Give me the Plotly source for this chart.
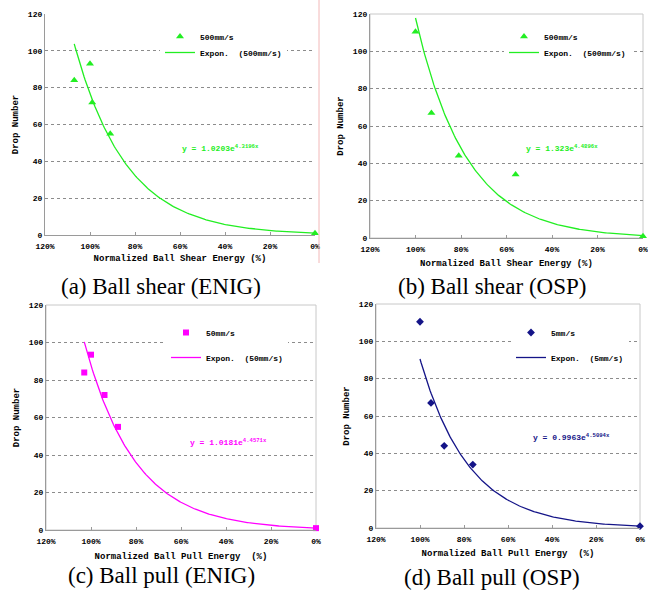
import numpy as np
import plotly.graph_objects as go

W, H = 648, 590

# ---- data (normalized energy as fraction, drop number) ----
a_x = [1.07, 1.00, 0.99, 0.91, 0.00]
a_y = [84, 93, 72, 55, 1]
b_x = [1.00, 0.93, 0.81, 0.56, 0.00]
b_y = [110.5, 67, 44, 34, 1]
c_x = [1.03, 1.00, 0.94, 0.88, 0.00]
c_y = [84, 93.5, 72, 55, 1]
d_x = [1.00, 0.95, 0.89, 0.76, 0.00]
d_y = [110.5, 67, 44, 34, 1]

# exponential trendline coefficients shown on the chart: y = A * exp(B x)
a_fit = (1.0203, 4.3196)
b_fit = (1.323, 4.4896)
c_fit = (1.0181, 4.4571)
d_fit = (0.9963, 4.5094)

a_series = "500mm/s"
b_series = "500mm/s"
c_series = "50mm/s"
d_series = "5mm/s"

captions = ["(a) Ball shear (ENIG)", "(b) Ball shear (OSP)",
            "(c) Ball pull (ENIG)", "(d) Ball pull (OSP)"]
x_titles = ["Normalized Ball Shear Energy (%)", "Normalized Ball Shear Energy (%)",
            "Normalized Ball Pull Energy  (%)", "Normalized Ball Pull Energy  (%)"]
y_title = "Drop Number"
x_ticks = [1.2, 1.0, 0.8, 0.6, 0.4, 0.2, 0.0]
x_ticktext = ["120%", "100%", "80%", "60%", "40%", "20%", "0%"]
y_ticks = [0, 20, 40, 60, 80, 100, 120]

# ---- styling / layout (pixels) ----
GREEN = "#22EE22"
MAGENTA = "#FF00FF"
NAVY = "#141488"
MONO = "Liberation Mono"

# leg: (left px, marker-item centre y, line-item centre y); split -> one legend per item
panels = [
    dict(x=a_x, y=a_y, fit=a_fit, name=a_series, color=GREEN, symbol="triangle-up", msize=7,
         px=(45, 315), py=(235, 14), eq=(0.60, 47), leg=(160, 33, 49), split=True, frame=False,
         tstand=4),
    dict(x=b_x, y=b_y, fit=b_fit, name=b_series, color=GREEN, symbol="triangle-up", msize=7,
         px=(370, 643), py=(238, 14), eq=(0.521, 48), leg=(504, 33, 49), split=True, frame=True,
         tstand=6),
    dict(x=c_x, y=c_y, fit=c_fit, name=c_series, color=MAGENTA, symbol="square", msize=6,
         px=(46, 316), py=(530, 305), eq=(0.569, 47), leg=(166, 329, 353), split=False,
         frame=True, tstand=7),
    dict(x=d_x, y=d_y, fit=d_fit, name=d_series, color=NAVY, symbol="diamond", msize=6,
         px=(376, 640), py=(528, 304), eq=(0.495, 49), leg=(511, 329, 353), split=False,
         frame=True, tstand=6),
]
cap_pos = [(161, 286), (492, 286), (161, 575), (492, 577)]
LEG_TOP_OFFSET = 11  # px from legend top to first item centre

fig = go.Figure()
layout = dict(width=W, height=H, margin=dict(l=0, r=0, t=0, b=0),
              paper_bgcolor="white", plot_bgcolor="white", showlegend=True)
annotations = []
shapes = []
leg_count = 0


def new_legend(lx, top, gap=0, order="normal", bg="white"):
    global leg_count
    leg_count += 1
    nm = "legend" if leg_count == 1 else "legend%d" % leg_count
    layout[nm] = dict(
        x=lx / W, y=1 - top / H, xanchor="left", yanchor="top", bgcolor=bg,
        borderwidth=0, font=dict(family=MONO, size=8, color="black", weight="bold"),
        itemwidth=30, tracegroupgap=gap, traceorder=order)
    return nm


for i, p in enumerate(panels):
    k = "" if i == 0 else str(i + 1)
    xa, ya = "x" + k, "y" + k
    A, B = p["fit"]
    xs = np.linspace(0, max(p["x"]), 200)
    ys = A * np.exp(B * xs)
    lx, cy1, cy2 = p["leg"]
    if p["split"]:
        # line-item legend first (drawn underneath, white box hides gridline),
        # marker-item legend on top with transparent box
        leg2 = new_legend(lx, cy2 - LEG_TOP_OFFSET)
        leg1 = new_legend(lx, cy1 - LEG_TOP_OFFSET, bg="rgba(255,255,255,0)")
        g1 = g2 = ""
    else:
        leg1 = leg2 = new_legend(lx, cy1 - LEG_TOP_OFFSET, gap=6, order="grouped")
        g1, g2 = "g%da" % i, "g%db" % i
    # trendline trace first so its legend is drawn beneath the marker legend
    fig.add_trace(go.Scatter(
        x=xs, y=ys, mode="lines", name="Expon.\u00a0 (%s)" % p["name"], xaxis=xa, yaxis=ya,
        line=dict(color=p["color"], width=1.3), legend=leg2, legendgroup=g2,
        legendrank=2, cliponaxis=False))
    fig.add_trace(go.Scatter(
        x=p["x"], y=p["y"], mode="markers", name=p["name"], xaxis=xa, yaxis=ya,
        marker=dict(symbol=p["symbol"], size=p["msize"], color=p["color"]),
        legend=leg1, legendgroup=g1, legendrank=1, cliponaxis=False))

    x0, x1 = p["px"]
    yb, yt = p["py"]
    layout["xaxis" + k] = dict(
        domain=[x0 / W, x1 / W], range=[1.2, 0], anchor=ya,
        tickvals=x_ticks, ticktext=x_ticktext, ticks="inside", ticklen=3, tickcolor="#999",
        ticklabelstandoff=3, ticklabeloverflow="allow",
        showline=True, linecolor="#9a9a9a", linewidth=1.3, showgrid=False, zeroline=False,
        tickfont=dict(family=MONO, size=8, color="black", weight="bold"),
        title=dict(text=x_titles[i], font=dict(family=MONO, size=9, color="black", weight="bold"),
                   standoff=p["tstand"]),
        automargin=False, fixedrange=True)
    layout["yaxis" + k] = dict(
        domain=[1 - yb / H, 1 - yt / H], range=[0, 120], anchor=xa,
        tickvals=y_ticks, ticks="", showline=True, linecolor="#9a9a9a", linewidth=1.3,
        showgrid=True, gridcolor="#8c8c8c", griddash="dot", gridwidth=1, zeroline=False,
        tickfont=dict(family=MONO, size=8, color="black", weight="bold"),
        title=dict(text=y_title, font=dict(family=MONO, size=9, color="black", weight="bold"),
                   standoff=7),
        automargin=False, fixedrange=True)
    ex, ey = p["eq"]
    annotations.append(dict(
        x=ex, y=ey, xref=xa, yref=ya, xanchor="left", yanchor="middle", showarrow=False,
        text="y = %se<sup>%sx</sup>" % (A, B),
        font=dict(family=MONO, size=8, color=p["color"], weight="bold")))
    if p["frame"]:
        shapes.append(dict(type="rect", xref=xa + " domain", yref=ya + " domain",
                           x0=0, x1=1, y0=0, y1=1, line=dict(color="#c8c8c8", width=1),
                           layer="below"))
    cx, cy = cap_pos[i]
    annotations.append(dict(
        x=cx / W, y=1 - cy / H, xref="paper", yref="paper", xanchor="center", yanchor="middle",
        showarrow=False, text=captions[i],
        font=dict(family="Liberation Serif", size=23, color="black")))

# thin separator line at right of panel (a)
shapes.append(dict(type="line", xref="paper", yref="paper", x0=319 / W, x1=319 / W,
                   y0=1 - 263 / H, y1=1.0, line=dict(color="#f2b8b8", width=1)))

layout["annotations"] = annotations
layout["shapes"] = shapes
fig.update_layout(**layout)
fig.write_html("out.html")
